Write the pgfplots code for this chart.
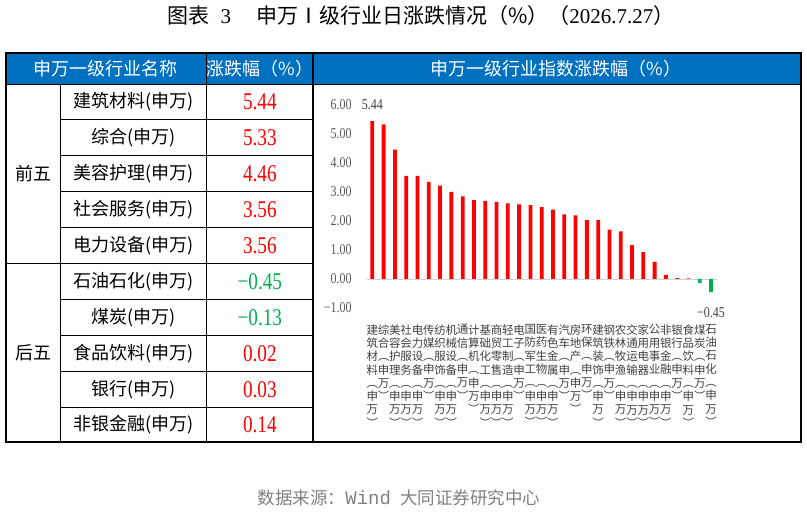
\documentclass[border=0pt]{standalone}
\usepackage{fontspec}
\usepackage{pgfplots}
\pgfplotsset{compat=1.18}
\setmainfont{Liberation Serif}
\setmonofont{Liberation Mono}
\newfontfamily\cjk{Noto Sans CJK SC}
\newfontfamily\num[FakeStretch=0.8]{Liberation Serif}
\definecolor{hdrblue}{HTML}{0070C0}
\definecolor{upred}{HTML}{FF0000}
\definecolor{dngreen}{HTML}{00B050}
\definecolor{tickgray}{HTML}{595959}
\definecolor{labgray}{HTML}{404040}
\definecolor{srcgray}{HTML}{808080}

\begin{document}
\begin{tikzpicture}
\useasboundingbox (0,0) rectangle (807pt,514pt);

\begin{scope}[shift={(0pt,514pt)}, x=1pt, y=-1pt]
  % header band
  \fill[hdrblue] (6,54) rectangle (801,84);
  % grid lines
  \draw[black, line width=0.8pt] (6,84) -- (801,84);
  \draw[black, line width=0.8pt] (60.7,84) -- (60.7,442);
  \draw[black, line width=0.8pt] (206.7,53) -- (206.7,442);
  \draw[black, line width=1.2pt] (313,53) -- (313,442);
  \foreach \yy in {119.8,155.6,191.4,227.2,299.8,335.6,371.4,407.2}
    \draw[black, line width=0.8pt] (60.7,\yy) -- (313,\yy);
  \draw[black, line width=0.8pt] (6,263.5) -- (313,263.5);
  % outer border
  \draw[black, line width=2pt] (6,53) rectangle (801,442);

  % header texts
  \begin{scope}[every node/.style={text=white, font=\cjk\fontsize{18}{18}\selectfont, inner sep=0pt}]
    \node at (106,69) {申万一级行业名称};
    \node at (259.8,69) {涨跌幅（\%）};
    \node at (556,69) {申万一级行业指数涨跌幅（\%）};
  \end{scope}

  % group labels
  \node[font=\cjk\fontsize{18}{18}\selectfont] at (33.3,173.7) {前五};
  \node[font=\cjk\fontsize{18}{18}\selectfont] at (33.3,352.8) {后五};

  % names
  \begin{scope}[every node/.style={font=\cjk\fontsize{18}{18}\selectfont, inner sep=0pt}]
    \node at (133.7,101.9) {建筑材料(申万)};
    \node at (133.7,137.7) {综合(申万)};
    \node at (133.7,173.5) {美容护理(申万)};
    \node at (133.7,209.3) {社会服务(申万)};
    \node at (133.7,245.4) {电力设备(申万)};
    \node at (133.7,281.6) {石油石化(申万)};
    \node at (133.7,317.7) {煤炭(申万)};
    \node at (133.7,353.5) {食品饮料(申万)};
    \node at (133.7,389.3) {银行(申万)};
    \node at (133.7,424.6) {非银金融(申万)};
  \end{scope}

  % values
  \begin{scope}[every node/.style={font=\num\fontsize{24}{24}\selectfont, inner sep=0pt}]
    \node[text=upred] at (259.8,101.9) {5.44};
    \node[text=upred] at (259.8,137.7) {5.33};
    \node[text=upred] at (259.8,173.5) {4.46};
    \node[text=upred] at (259.8,209.3) {3.56};
    \node[text=upred] at (259.8,245.4) {3.56};
    \node[text=dngreen] at (259.8,281.6) {−0.45};
    \node[text=dngreen] at (259.8,317.7) {−0.13};
    \node[text=upred] at (259.8,353.5) {0.02};
    \node[text=upred] at (259.8,389.3) {0.03};
    \node[text=upred] at (259.8,424.6) {0.14};
  \end{scope}

  % title
  \node[font=\cjk\fontsize{21}{21}\selectfont, inner sep=0pt] at (421,16)
    {图表\hspace{11pt}{\rmfamily 3}\hspace{25pt}申万Ⅰ级行业日涨跌情况（\%）（{\rmfamily 2026.7.27}）};

  % source
  \node[font=\cjk\fontsize{17.5}{17.5}\selectfont, text=srcgray, inner sep=0pt] at (399,498)
    {数据来源：{\fontsize{19}{19}\selectfont\ttfamily Wind}\hspace{9pt}大同证券研究中心};
\end{scope}

\begin{axis}[
  at={(366.7pt,206pt)}, anchor=south west,
  scale only axis, width=350pt, height=203pt,
  xmin=-0.5, xmax=30.5, ymin=-1, ymax=6,
  axis line style={draw=none},
  tick style={draw=none},
  clip=false,
  ybar, bar width=3.8pt,
  ytick={-1,0,1,2,3,4,5,6},
  yticklabels={−1.00,0.00,1.00,2.00,3.00,4.00,5.00,6.00},
  yticklabel style={font=\num\fontsize{15}{15}\selectfont, text=tickgray, anchor=east, inner sep=0pt, xshift=-15pt},
  extra y ticks={0}, extra y tick labels={},
  extra y tick style={grid=major, major grid style={color=black!18, line width=0.9pt}},
  xtick={0,1,...,30},
  xticklabels={
    {建\\筑\\材\\料\\︵\\申\\万\\︶},
    {综\\合\\︵\\申\\万\\︶},
    {美\\容\\护\\理\\︵\\申\\万\\︶},
    {社\\会\\服\\务\\︵\\申\\万\\︶},
    {电\\力\\设\\备\\︵\\申\\万\\︶},
    {传\\媒\\︵\\申\\万\\︶},
    {纺\\织\\服\\饰\\︵\\申\\万\\︶},
    {机\\械\\设\\备\\︵\\申\\万\\︶},
    {通\\信\\︵\\申\\万\\︶},
    {计\\算\\机\\︵\\申\\万\\︶},
    {基\\础\\化\\工\\︵\\申\\万\\︶},
    {商\\贸\\零\\售\\︵\\申\\万\\︶},
    {轻\\工\\制\\造\\︵\\申\\万\\︶},
    {电\\子\\︵\\申\\万\\︶},
    {国\\防\\军\\工\\︵\\申\\万\\︶},
    {医\\药\\生\\物\\︵\\申\\万\\︶},
    {有\\色\\金\\属\\︵\\申\\万\\︶},
    {汽\\车\\︵\\申\\万\\︶},
    {房\\地\\产\\︵\\申\\万\\︶},
    {环\\保\\︵\\申\\万\\︶},
    {建\\筑\\装\\饰\\︵\\申\\万\\︶},
    {钢\\铁\\︵\\申\\万\\︶},
    {农\\林\\牧\\渔\\︵\\申\\万\\︶},
    {交\\通\\运\\输\\︵\\申\\万\\︶},
    {家\\用\\电\\器\\︵\\申\\万\\︶},
    {公\\用\\事\\业\\︵\\申\\万\\︶},
    {非\\银\\金\\融\\︵\\申\\万\\︶},
    {银\\行\\︵\\申\\万\\︶},
    {食\\品\\饮\\料\\︵\\申\\万\\︶},
    {煤\\炭\\︵\\申\\万\\︶},
    {石\\油\\石\\化\\︵\\申\\万\\︶}
  },
  xticklabel style={font=\cjk\fontsize{11.5}{13.3}\selectfont, text=labgray, align=center, anchor=north, inner sep=0pt, yshift=-12pt},
]
\addplot[ybar, bar shift=0pt, fill=upred, draw=none] coordinates {
  (0,5.44) (1,5.33) (2,4.46) (3,3.56) (4,3.56) (5,3.35) (6,3.22) (7,3.00)
  (8,2.85) (9,2.72) (10,2.69) (11,2.66) (12,2.61) (13,2.57) (14,2.55) (15,2.48)
  (16,2.39) (17,2.23) (18,2.19) (19,2.03) (20,2.03) (21,1.70) (22,1.64) (23,1.17)
  (24,0.93) (25,0.59) (26,0.14) (27,0.03) (28,0.02)
};
\addplot[ybar, bar shift=0pt, fill=dngreen, draw=none] coordinates {
  (29,-0.13) (30,-0.45)
};
\addplot[ybar, bar shift=0pt, draw=none, fill=none, nodes near coords, point meta=explicit symbolic,
  nodes near coords style={font=\num\fontsize{15}{15}\selectfont, text=labgray, anchor=south, yshift=8pt}]
  coordinates {(0,5.44) [5.44]};
\addplot[ybar, bar shift=0pt, draw=none, fill=none, nodes near coords, point meta=explicit symbolic,
  nodes near coords style={font=\num\fontsize{15}{15}\selectfont, text=labgray, anchor=north, yshift=-12pt}]
  coordinates {(30,-0.45) [−0.45]};
\end{axis}
\end{tikzpicture}
\end{document}
